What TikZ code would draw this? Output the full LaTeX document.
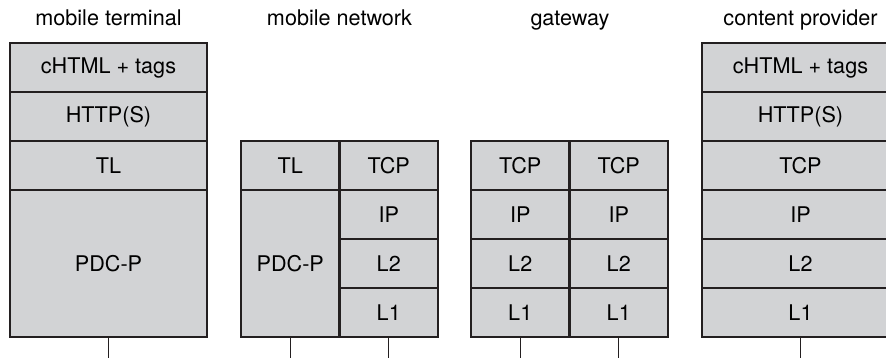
\documentclass[tikz,border=0pt]{standalone}
\usepackage{fontspec}
\setmainfont{TeX Gyre Heros}
\usetikzlibrary{backgrounds}
\definecolor{layergray}{HTML}{D2D3D5}
\definecolor{edgegray}{HTML}{231F20}
\tikzset{
    layer/.style={draw=edgegray, line width=1.3pt, inner sep=0pt,
        minimum height=0.98cm, font=\fontsize{12.3}{14}\selectfont},
    wide/.style={layer, minimum width=3.94cm},
    half/.style={layer, minimum width=1.97cm},
    title/.style={anchor=base, font=\fontsize{12.3}{14}\selectfont},
    wire/.style={draw=edgegray, line width=0.75pt}
}
\begin{document}
\begin{tikzpicture}

        \useasboundingbox (0,0) rectangle (17.72,7.16);
        \clip (0,0) rectangle (17.72,7.16);

        % titles
        \node[title] (tmt) at (2.17, 6.64) {mobile terminal};
        \node[title] (tmn) at (6.79, 6.64) {mobile network};
        \node[title] (tgw) at (11.40, 6.64) {gateway};
        \node[title] (tcp) at (16.01, 6.64) {content provider};

        % mobile terminal
        \node[wide] (mtapp)  at (2.17, 5.81) {cHTML + tags};
        \node[wide] (mthttp) at (2.17, 4.83) {HTTP(S)};
        \node[wide] (mttl)   at (2.17, 3.85) {TL};
        \node[wide, minimum height=2.94cm] (mtpdc) at (2.17, 1.89) {PDC-P};

        % mobile network
        \node[half] (mntl) at (5.805, 3.85) {TL};
        \node[half, minimum height=2.94cm] (mnpdc) at (5.805, 1.89) {PDC-P};
        \node[half] (mntcp) at (7.775, 3.85) {TCP};
        \node[half] (mnip)  at (7.775, 2.87) {IP};
        \node[half] (mnltwo) at (7.775, 1.89) {L2};
        \node[half] (mnlone) at (7.775, 0.91) {L1};

        % gateway
        \foreach \col/\x in {a/10.405, b/12.375} {
            \node[half] (gwtcp\col)  at (\x, 3.85) {TCP};
            \node[half] (gwip\col)   at (\x, 2.87) {IP};
            \node[half] (gwltwo\col) at (\x, 1.89) {L2};
            \node[half] (gwlone\col) at (\x, 0.91) {L1};
        }

        % content provider
        \node[wide] (cpapp)  at (16.01, 5.81) {cHTML + tags};
        \node[wide] (cphttp) at (16.01, 4.83) {HTTP(S)};
        \node[wide] (cptcp)  at (16.01, 3.85) {TCP};
        \node[wide] (cpip)   at (16.01, 2.87) {IP};
        \node[wide] (cpltwo) at (16.01, 1.89) {L2};
        \node[wide] (cplone) at (16.01, 0.91) {L1};

        % grey behind the stacks
        \begin{scope}[on background layer]
            \fill[layergray] (mtapp.north west) rectangle (mtpdc.south east);
            \fill[layergray] (mntl.north west) rectangle (mnlone.south east);
            \fill[layergray] (gwtcpa.north west) rectangle (gwloneb.south east);
            \fill[layergray] (cpapp.north west) rectangle (cplone.south east);
        \end{scope}

        % links down to the medium
        \coordinate (mtend)  at (2.17, 0);
        \coordinate (mnenda) at (5.805, 0);
        \coordinate (mnendb) at (7.775, 0);
        \coordinate (gwenda) at (10.405, 0);
        \coordinate (gwendb) at (12.375, 0);
        \coordinate (cpend)  at (16.01, 0);

        \draw[wire] (mtpdc.south) -- (mtend);
        \draw[wire] (mnpdc.south) -- (mnenda);
        \draw[wire] (mnlone.south) -- (mnendb);
        \draw[wire] (gwlonea.south) -- (gwenda);
        \draw[wire] (gwloneb.south) -- (gwendb);
        \draw[wire] (cplone.south) -- (cpend);

\end{tikzpicture}
\end{document}
